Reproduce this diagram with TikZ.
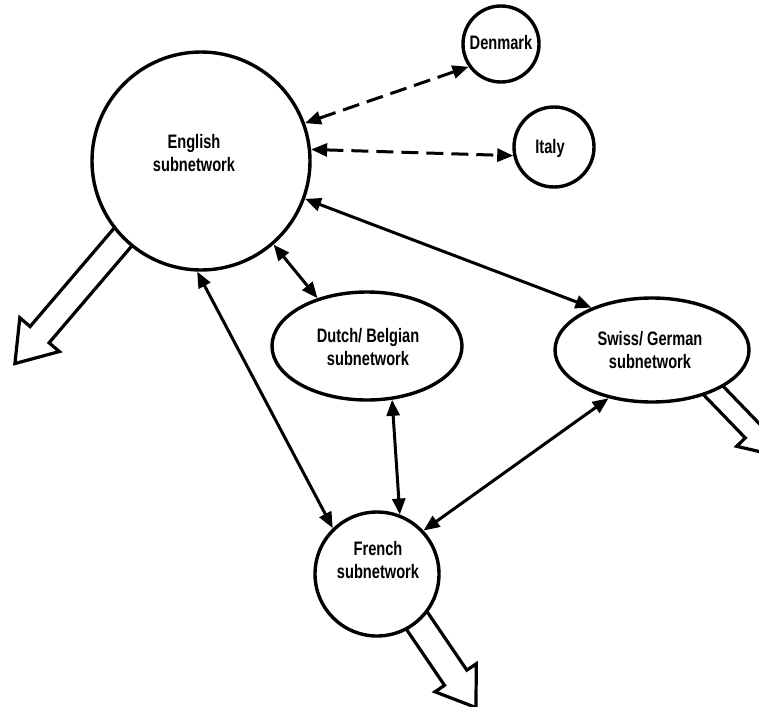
\documentclass[tikz,border=0pt]{standalone}
\usepackage{fontspec}
\setmainfont{Liberation Sans}[FakeStretch=0.75,BoldFont={Liberation Sans Bold}]
\usetikzlibrary{arrows.meta,shapes.geometric,calc}
\pgfdeclarelayer{background}
\pgfsetlayers{background,main}

% hollow outflow arrow: start, angle, shaft length, half shaft width, half head width, head length
\newcommand\outflowarrow[6]{%
  \begin{scope}[shift={#1}, rotate=#2]
    \draw[outflow] (0,#4) -- (#3,#4) -- (#3,#5) -- ({#3+#6},0)
      -- (#3,-#5) -- (#3,-#4) -- (0,-#4);
  \end{scope}}

\tikzset{
  net/.style={draw, line width=3.4pt, fill=white, inner sep=0pt},
  roundnet/.style={net, circle},
  ovalnet/.style={net, ellipse},
  lbl/.style={align=center, inner sep=0pt, font=\fontsize{19.5}{23}\selectfont\bfseries},
  tip/.tip={Triangle[length=16pt,width=13pt]},
  link/.style={line width=3pt, tip-tip},
  dashlink/.style={link, dash pattern=on 17pt off 8pt},
  outflow/.style={draw, line width=3.2pt, fill=white, line join=miter},
}

\begin{document}
\begin{tikzpicture}[x=1pt, y=1pt]
  \useasboundingbox (0,0) rectangle (759,-706);

  % subnetworks
  \node[roundnet, minimum size=218pt] (eng) at (201,-161) {};
  \node[roundnet, minimum size=76pt]  (den) at (501,-44)  {};
  \node[roundnet, minimum size=80pt]  (ita) at (554,-147) {};
  \node[ovalnet, minimum width=190pt, minimum height=108pt] (dut) at (367,-346) {};
  \node[ovalnet, minimum width=194pt, minimum height=104pt] (swi) at (652,-350) {};
  \node[roundnet, minimum size=124pt] (fre) at (377,-574) {};

  % labels
  \node[lbl] (engtxt) at (194,-153) {English\\subnetwork};
  \node[lbl] (dentxt) at (501,-43)  {Denmark};
  \node[lbl] (itatxt) at (550,-148) {Italy};
  \node[lbl] (duttxt) at (368,-347) {Dutch/ Belgian\\subnetwork};
  \node[lbl] (switxt) at (650,-350) {Swiss/ German\\subnetwork};
  \node[lbl] (fretxt) at (378,-560) {French\\subnetwork};

  % outgoing traffic
  \begin{pgfonlayer}{background}
    \coordinate (engout) at ($(eng.center)+(-57.5,-52)$);
    \coordinate (freout) at ($(fre.center)+(23.6,-22.7)$);
    \coordinate (swiout) at ($(swi.center)+(43.5,-22)$);
    \outflowarrow{(engout)}{229.5}{160}{12.5}{26}{38}
    \outflowarrow{(freout)}{-55.8}{98}{13.5}{25}{36}
    \outflowarrow{(swiout)}{-46}{82}{10}{22}{34}
  \end{pgfonlayer}

  % links between subnetworks
  \draw[dashlink] (eng.20) -- (den.215);
  \draw[dashlink] (eng.6) -- (ita.192);
  \draw[link] (eng.-20) -- (swi.145);
  \draw[link] (eng.-49) -- (dut.136);
  \draw[link] (eng.-92) -- (fre.134);
  \draw[link] (dut.-65) -- (fre.69);
  \draw[link] (swi.228) -- (fre.43);
\end{tikzpicture}
\end{document}
